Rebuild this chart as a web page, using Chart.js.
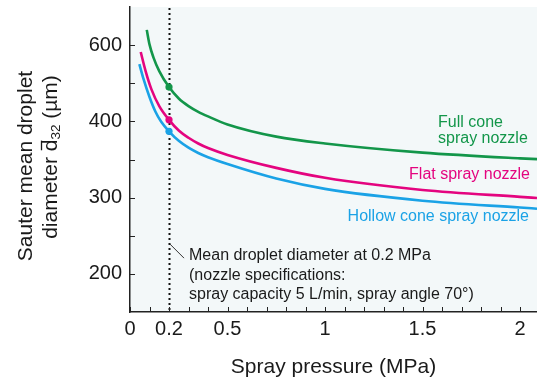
<!DOCTYPE html>
<html>
<head>
<meta charset="utf-8">
<script src="https://cdn.jsdelivr.net/npm/chart.js@4.4.1/dist/chart.umd.min.js"></script>
<style>
  html, body { margin: 0; padding: 0; background: #ffffff; }
  canvas { display: block; }
</style>
</head>
<body>
<canvas id="myChart" width="537" height="381"></canvas>
<script>
// spray pressure (MPa) / Sauter mean diameter
const fullConePressure = [0.086, 0.1, 0.12, 0.15, 0.2, 0.25, 0.3, 0.35, 0.4, 0.5, 0.75, 1.0, 1.5, 2.0, 2.087];
const fullConeDiameter = [520, 501, 484, 466, 445, 430, 420, 412.5, 406.5, 396, 380, 371, 359, 351.5, 350.5];

const flatPressure = [0.055, 0.08, 0.11, 0.15, 0.2, 0.25, 0.3, 0.35, 0.4, 0.5, 0.75, 1.0, 1.5, 2.0, 2.087];
const flatDiameter = [491, 466, 442, 420, 402, 388, 378.5, 371, 365, 356, 339, 326, 310, 301, 299.5];

const hollowPressure = [0.048, 0.07, 0.1, 0.13, 0.16, 0.2, 0.25, 0.3, 0.35, 0.4, 0.5, 0.75, 1.0, 1.5, 2.0, 2.087];
const hollowDiameter = [475, 455, 432, 413, 399.5, 387, 374.5, 365.5, 358.5, 353, 344, 325, 311.5, 296, 287, 285.5];

const seriesNames = ["Full cone spray nozzle", "Flat spray nozzle", "Hollow cone spray nozzle"];

const REF_PRESSURE = 0.2;

const xLabelValues = [0, 0.2, 0.5, 1, 1.5, 2];
const xLabelText = ["0", "0.2", "0.5", "1", "1.5", "2"];
const xMarkValues = [0, 0.1, 0.2, 0.3, 0.4, 0.5, 0.6, 0.7, 0.8, 0.9, 1, 1.1, 1.2, 1.3, 1.4, 1.5, 1.6, 1.7, 1.8, 1.9, 2];

const yLabelValues = [200, 300, 400, 500];
const yLabelText = ["200", "300", "400", "600"];
const yMarkValues = [200, 250, 300, 350, 400, 450, 500];

const GREEN = "#13964a";
const PINK = "#e4047f";
const BLUE = "#1aa2e6";
const FONT = "'Liberation Sans', Arial, sans-serif";

function toPoints(xs, ys) {
    return xs.map((x, i) => ({ x: x, y: ys[i] }));
}

function curve(label, xs, ys, color) {
    return {
        label: label,
        data: toPoints(xs, ys),
        borderColor: color,
        backgroundColor: color,
        borderWidth: 2.6,
        cubicInterpolationMode: "monotone",
        pointRadius: c => (c.raw && c.raw.x === REF_PRESSURE ? 3.6 : 0),
        pointBorderWidth: 0,
        fill: false
    };
}

const decor = {
    id: "decor",
    beforeDraw(chart) {
        const { ctx, chartArea: a } = chart;
        ctx.save();
        ctx.fillStyle = "#f3f8f9";
        ctx.fillRect(a.left, a.top, a.right - a.left, a.bottom - a.top);
        ctx.restore();
    },
    beforeDatasetsDraw(chart) {
        const { ctx, chartArea: a, scales } = chart;
        const x = Math.round(scales.x.getPixelForValue(REF_PRESSURE)) + 0.5;
        ctx.save();
        ctx.strokeStyle = "#111111";
        ctx.lineWidth = 2;
        ctx.setLineDash([2, 3]);
        ctx.beginPath();
        ctx.moveTo(x, a.top + 1);
        ctx.lineTo(x, a.bottom);
        ctx.stroke();
        ctx.restore();
    },
    afterDraw(chart) {
        const { ctx, chartArea: a, scales } = chart;
        ctx.save();
        // inward tick marks
        ctx.strokeStyle = "#222222";
        ctx.lineWidth = 1;
        xMarkValues.forEach(v => {
            const px = Math.round(scales.x.getPixelForValue(v)) + 0.5;
            ctx.beginPath();
            ctx.moveTo(px, a.bottom);
            ctx.lineTo(px, a.bottom - 5);
            ctx.stroke();
        });
        yMarkValues.forEach(v => {
            const py = Math.round(scales.y.getPixelForValue(v)) + 0.5;
            ctx.beginPath();
            ctx.moveTo(a.left, py);
            ctx.lineTo(a.left + 5, py);
            ctx.stroke();
        });

        // annotation at the reference pressure
        const rx = scales.x.getPixelForValue(REF_PRESSURE);
        const ry = scales.y.getPixelForValue(239);
        ctx.strokeStyle = "#333333";
        ctx.lineWidth = 1;
        ctx.beginPath();
        ctx.moveTo(rx + 1, ry);
        ctx.lineTo(rx + 15, ry + 14);
        ctx.stroke();
        ctx.fillStyle = "#1a1a1a";
        ctx.font = "16px " + FONT;
        ctx.textAlign = "left";
        ctx.textBaseline = "alphabetic";
        ctx.fillText("Mean droplet diameter at 0.2 MPa", rx + 20, ry + 16);
        ctx.fillText("(nozzle specifications:", rx + 20, ry + 35.5);
        ctx.fillText("spray capacity 5 L/min, spray angle 70°)", rx + 20, ry + 55);

        // series labels
        ctx.fillStyle = GREEN;
        ctx.fillText("Full cone", 438, 127);
        ctx.fillText("spray nozzle", 438, 143);
        ctx.textAlign = "right";
        ctx.fillStyle = PINK;
        ctx.fillText(seriesNames[1], 530, 179);
        ctx.fillStyle = BLUE;
        ctx.fillText(seriesNames[2], 529, 221);

        // y axis title
        ctx.fillStyle = "#1a1a1a";
        ctx.rotate(-Math.PI / 2);
        ctx.textAlign = "center";
        ctx.font = "21px " + FONT;
        ctx.fillText("Sauter mean droplet", -166, 32);

        const big = "21px " + FONT;
        const small = "13.5px " + FONT;
        const parts = [["diameter ", big, 0], ["d", big, 0], ["32", small, 3], [" (µm)", big, 0]];
        let total = 0;
        parts.forEach(p => { ctx.font = p[1]; p.push(ctx.measureText(p[0]).width); total += p[3]; });
        let lx = -157 - total / 2;
        const base = 57;
        ctx.textAlign = "left";
        parts.forEach((p, i) => {
            ctx.font = p[1];
            ctx.fillText(p[0], lx, base + p[2]);
            if (i === 1) {
                ctx.strokeStyle = "#1a1a1a";
                ctx.lineWidth = 1.3;
                ctx.beginPath();
                ctx.moveTo(lx + 1, base - 15.5);
                ctx.lineTo(lx + p[3] - 1, base - 15.5);
                ctx.stroke();
            }
            lx += p[3];
        });
        ctx.restore();
    }
};

const ctx = document.getElementById("myChart").getContext("2d");

new Chart(ctx, {
    type: "line",
    data: {
        datasets: [
            curve(seriesNames[0], fullConePressure, fullConeDiameter, GREEN),
            curve(seriesNames[1], flatPressure, flatDiameter, PINK),
            curve(seriesNames[2], hollowPressure, hollowDiameter, BLUE)
        ]
    },
    options: {
        responsive: false,
        animation: false,
        devicePixelRatio: 1,
        layout: { padding: { top: 7, right: 0, left: 0, bottom: 0 } },
        plugins: {
            legend: { display: false },
            tooltip: { enabled: false }
        },
        scales: {
            x: {
                type: "linear",
                min: 0,
                max: 2.087,
                afterFit: s => { s.height = 69; s.paddingLeft = 0; s.paddingRight = 0; },
                afterBuildTicks: s => { s.ticks = xLabelValues.map(v => ({ value: v })); },
                grid: { display: false, drawTicks: false, tickLength: 0 },
                border: { display: true, color: "#222222", width: 1.5 },
                ticks: {
                    autoSkip: false,
                    maxRotation: 0,
                    padding: 5,
                    color: "#1a1a1a",
                    font: { family: FONT, size: 20 },
                    callback: (v, i) => xLabelText[i]
                },
                title: {
                    display: true,
                    text: "Spray pressure (MPa)",
                    color: "#1a1a1a",
                    font: { family: FONT, size: 21 },
                    padding: { top: 0, bottom: 1 }
                }
            },
            y: {
                type: "linear",
                min: 150,
                max: 550,
                afterFit: s => { s.width = 130; s.paddingTop = 0; s.paddingBottom = 0; },
                afterBuildTicks: s => { s.ticks = yLabelValues.map(v => ({ value: v })); },
                grid: { display: false, drawTicks: false, tickLength: 0 },
                border: { display: true, color: "#222222", width: 1.5 },
                ticks: {
                    padding: 8,
                    color: "#1a1a1a",
                    font: { family: FONT, size: 20 },
                    callback: (v, i) => yLabelText[i]
                }
            }
        }
    },
    plugins: [decor]
});
</script>
</body>
</html>
